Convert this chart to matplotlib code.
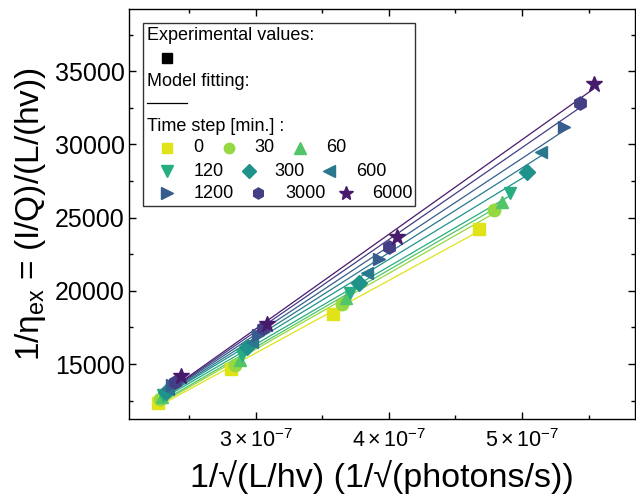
import matplotlib
matplotlib.use("Agg")
import matplotlib.pyplot as plt
import numpy as np
from matplotlib.ticker import MultipleLocator, FixedLocator, FuncFormatter
from matplotlib.patches import Rectangle

plt.rcParams['font.family'] = ['Liberation Sans', 'DejaVu Sans']
plt.rcParams['mathtext.fontset'] = 'custom'
plt.rcParams['mathtext.rm'] = 'Liberation Sans'
plt.rcParams['mathtext.it'] = 'Liberation Sans:italic'

# ---- data ----
time_steps = ["0", "30", "60", "120", "300", "600", "1200", "3000", "6000"]
markers = ["s", "o", "^", "v", "D", "<", ">", "h", "*"]

x_0    = [2.262e-7, 2.812e-7, 3.577e-7, 4.673e-7]
y_0    = [12338, 14638, 18413, 24215]
x_30   = [2.277e-7, 2.842e-7, 3.645e-7, 4.792e-7]
y_30   = [12611, 14932, 19096, 25512]
x_60   = [2.292e-7, 2.880e-7, 3.674e-7, 4.849e-7]
y_60   = [12747, 15273, 19505, 26078]
x_120  = [2.300e-7, 2.892e-7, 3.708e-7, 4.907e-7]
y_120  = [12884, 15614, 19881, 26652]
x_300  = [2.323e-7, 2.930e-7, 3.778e-7, 5.038e-7]
y_300  = [13089, 16181, 20509, 28126]
x_600  = [2.338e-7, 2.968e-7, 3.833e-7, 5.143e-7]
y_600  = [13294, 16522, 21191, 29491]
x_1200 = [2.368e-7, 3.017e-7, 3.928e-7, 5.313e-7]
y_1200 = [13567, 16980, 22167, 31198]
x_3000 = [2.390e-7, 3.055e-7, 4.001e-7, 5.439e-7]
y_3000 = [13792, 17437, 22966, 32863]
x_6000 = [2.435e-7, 3.081e-7, 4.059e-7, 5.539e-7]
y_6000 = [14215, 17730, 23648, 34160]

xs = [x_0, x_30, x_60, x_120, x_300, x_600, x_1200, x_3000, x_6000]
ys = [y_0, y_30, y_60, y_120, y_300, y_600, y_1200, y_3000, y_6000]

cmap = plt.get_cmap('viridis')
colors = [cmap(v) for v in [0.95, 0.84, 0.73, 0.62, 0.51, 0.40, 0.29, 0.18, 0.07]]
msizes = [8.5, 9, 9, 9, 8, 9, 9, 9.5, 12]

fig = plt.figure(figsize=(6.36, 4.98), dpi=100)
ax = fig.add_axes([0.2036, 0.1586, 0.7950, 0.8233])

for x, y, c, m, ms in zip(xs, ys, colors, markers, msizes):
    x = np.array(x); y = np.array(y)
    k, b = np.polyfit(x, y, 1)
    xl = np.array([x.min(), x.max()])
    ax.plot(xl, k * xl + b, color=c, lw=0.9, zorder=2)
    ax.plot(x, y, linestyle='none', marker=m, color=c, ms=ms, mec=c, zorder=3)

ax.set_xlim(2.05e-7, 5.85e-7)
ax.set_ylim(11250, 39250)

ax.xaxis.set_major_locator(FixedLocator([3e-7, 4e-7, 5e-7]))
ax.xaxis.set_minor_locator(FixedLocator([2.5e-7, 3.5e-7, 4.5e-7, 5.5e-7]))
ax.xaxis.set_major_formatter(FuncFormatter(
    lambda v, p: r'$\mathregular{%d\times10^{-7}}$' % round(v * 1e7)))
ax.yaxis.set_major_locator(MultipleLocator(5000))
ax.yaxis.set_minor_locator(MultipleLocator(2500))

ax.tick_params(which='both', direction='in', top=True, right=True, width=1.0)
ax.tick_params(which='major', length=5)
ax.tick_params(axis='y', which='major', labelsize=18)
ax.tick_params(axis='x', which='major', labelsize=15.5, pad=7)
ax.tick_params(which='minor', length=3)
for s in ax.spines.values():
    s.set_linewidth(1.0)

ax.set_xlabel('1/√(L/hv) (1/√(photons/s))', fontsize=24.5, labelpad=6)
ax.set_ylabel(r'1/η$_\mathregular{ex}$ = (I/Q)/(L/(hv))', fontsize=24, labelpad=5)

# ---- legend box (drawn manually) ----
L0, R0, T0, B0 = 129.5, 635.0, 9.0, 419.0
def A(px, py):
    return ((px - L0) / (R0 - L0), 1 - (py - T0) / (B0 - T0))

tr = ax.transAxes
bx0, by0 = A(143.3, 205.7)
bx1, by1 = A(415.0, 22.7)
ax.add_patch(Rectangle((bx0, by0), bx1 - bx0, by1 - by0, transform=tr,
                       facecolor='white', edgecolor='#333333', lw=1.0, zorder=5))
lfs = 13
def T(px, py, s):
    ax.text(*A(px, py), s, transform=tr, fontsize=lfs, va='center', ha='left', zorder=6)

T(147.3, 35, 'Experimental values:')
ax.plot(*A(166.7, 58.3), marker='s', color='black', ms=7, transform=tr, zorder=6, clip_on=False)
T(147.3, 81, 'Model fitting:')
p1 = A(146.7, 103.3); p2 = A(187.3, 103.3)
ax.plot([p1[0], p2[0]], [p1[1], p2[1]], color='black', lw=0.9, transform=tr, zorder=6)
T(147.0, 126, 'Time step [min.] :')

mk_pos = [(166.7, 147.7), (229.3, 147.7), (300.0, 147.7),
          (166.7, 171.0), (249.0, 171.0), (329.3, 171.0),
          (166.7, 193.3), (258.3, 193.3), (346.0, 193.3)]
lb_pos = [(193.3, 147.7), (254.0, 147.7), (326.0, 147.7),
          (193.3, 171.0), (274.3, 171.0), (356.0, 171.0),
          (193.3, 193.3), (285.0, 193.3), (371.7, 193.3)]
lms = [7, 7.5, 8, 8, 7, 8, 8, 8, 10]
for (mx, my), (lx, ly), c, m, ms, lab in zip(mk_pos, lb_pos, colors, markers, lms, time_steps):
    ax.plot(*A(mx, my), marker=m, color=c, mec=c, ms=ms, transform=tr, zorder=6)
    T(lx, ly, lab)

fig.savefig('out.png', dpi=100)
